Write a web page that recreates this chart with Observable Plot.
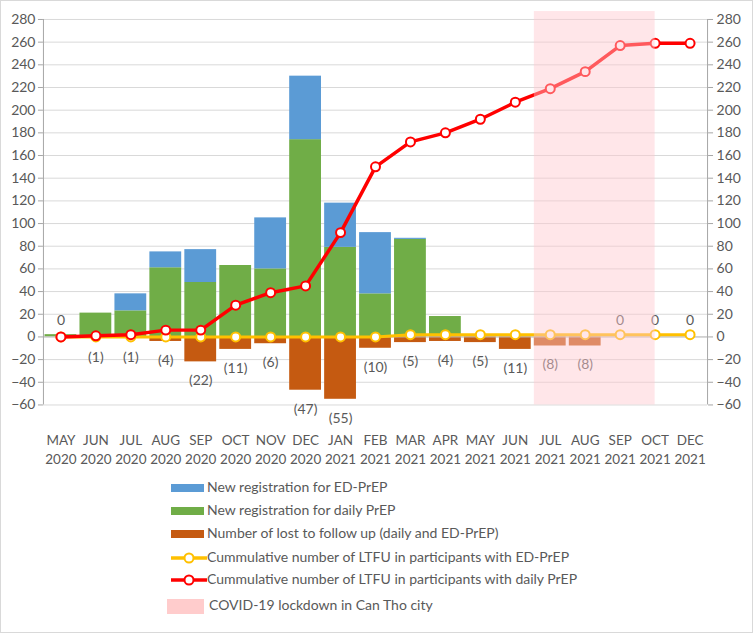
<!DOCTYPE html>
<html>
<head>
<meta charset="utf-8">
<script src="https://cdn.jsdelivr.net/npm/d3@7"></script>
<script src="https://cdn.jsdelivr.net/npm/@observablehq/plot@0.6"></script>
<style>
  html, body { margin: 0; padding: 0; background: #fff; }
  #wrap { position: relative; width: 753px; height: 633px; box-sizing: border-box; border: 1px solid #d9d9d9; overflow: hidden; font-family: Lato, "Open Sans", sans-serif; }
  #chart { position: absolute; left: -1px; top: -1px; }
  .leg { position: absolute; font-size: 14px; color: #595959; line-height: 18px; white-space: nowrap; }
  .sw { position: absolute; }
</style>
</head>
<body>
<div id="wrap"><div id="chart"></div><div id="legend"></div></div>
<script>
const months = ["MAY 2020","JUN 2020","JUL 2020","AUG 2020","SEP 2020","OCT 2020","NOV 2020","DEC 2020","JAN 2021","FEB 2021","MAR 2021","APR 2021","MAY 2021","JUN 2021","JUL 2021","AUG 2021","SEP 2021","OCT 2021","DEC 2021"];
const dailyNew = [2,21,23,61,48,63,60,174,79,38,86,18,0,0,0,0,0,0,0];
const edNew    = [0,0,15,14,29,0,45,56,39,54,1,0,0,0,0,0,0,0,0];
const ltfu     = [0,1,1,4,22,11,6,47,55,10,5,4,5,11,8,8,0,0,0];
const cumEd    = [0,0,0,0,0,0,0,0,0,0,2,2,2,2,2,2,2,2,2];
const cumDaily = [0,1,2,6,6,28,39,45,92,150,172,180,192,207,219,234,257,259,259];
const yTicks   = [-60,-40,-20,0,20,40,60,80,100,120,140,160,180,200,220,240,260,280];
const lockdownStart = "JUL 2021";
const lockdownEnd = "OCT 2021";
const lockdownTop = 287;

const seriesNames = [
  "New registration for ED-PrEP",
  "New registration for daily PrEP",
  "Number of lost to follow up (daily and ED-PrEP)",
  "Cummulative number of LTFU in participants with ED-PrEP",
  "Cummulative number of LTFU in participants with daily PrEP",
  "COVID-19 lockdown in Can Tho city"
];
const colors = { ed: "#5B9BD5", daily: "#70AD47", ltfu: "#C55A11", cumEd: "#FFC000", cumDaily: "#FF0000", lock: "#FFC7CE" };

const idx = months.map((m, i) => i);
const hw = 0.455;
const gray = "#595959";
const axisGray = "#a6a6a6";
const font = "Lato, 'Open Sans', sans-serif";
const fs = 14;

const ls = months.indexOf(lockdownStart), le = months.indexOf(lockdownEnd);

const chart = Plot.plot({
  width: 753,
  height: 475,
  marginLeft: 43,
  marginRight: 45,
  marginTop: 19,
  marginBottom: 70,
  style: { fontFamily: font, fontSize: fs + "px", color: gray, background: "transparent" },
  x: { type: "linear", domain: [-0.5, months.length - 0.5], axis: null },
  y: { domain: [-60, 280], axis: null },
  marks: [
    Plot.gridY(yTicks, { stroke: "#d9d9d9", strokeOpacity: 1 }),
    Plot.rectY(idx, { x1: i => i - hw, x2: i => i + hw, y1: 0, y2: i => dailyNew[i], fill: colors.daily }),
    Plot.rectY(idx.filter(i => edNew[i] > 0), { x1: i => i - hw, x2: i => i + hw, y1: i => dailyNew[i], y2: i => dailyNew[i] + edNew[i], fill: colors.ed }),
    Plot.rectY(idx.filter(i => ltfu[i] > 0), { x1: i => i - hw, x2: i => i + hw, y1: 0, y2: i => -ltfu[i], fill: colors.ltfu }),
    Plot.ruleY([0], { stroke: "#bfbfbf" }),
    Plot.text(idx.filter(i => ltfu[i] > 0), { x: i => i, y: i => -ltfu[i], text: i => `(${ltfu[i]})`, dy: 19, fill: gray, fontSize: fs }),
    Plot.text(idx.filter(i => ltfu[i] === 0), { x: i => i, y: 0, text: i => "0", dy: -16, fill: gray, fontSize: fs }),
    Plot.line(idx, { x: i => i, y: i => cumEd[i], stroke: colors.cumEd, strokeWidth: 3 }),
    Plot.dot(idx, { x: i => i, y: i => cumEd[i], r: 4.5, fill: "white", stroke: colors.cumEd, strokeWidth: 2 }),
    Plot.line(idx, { x: i => i, y: i => cumDaily[i], stroke: colors.cumDaily, strokeWidth: 3.5 }),
    Plot.dot(idx, { x: i => i, y: i => cumDaily[i], r: 4.5, fill: "white", stroke: colors.cumDaily, strokeWidth: 2 }),
    Plot.rect([0], { x1: ls - hw, x2: le, y1: -60, y2: lockdownTop, fill: colors.lock, fillOpacity: 0.45 }),
    Plot.ruleX([-0.5, months.length - 0.5], { y1: -60, y2: 280, stroke: axisGray }),
    Plot.axisY(yTicks, { anchor: "left", tickSize: 5, tickPadding: 3, stroke: axisGray, fill: gray, fontSize: fs }),
    Plot.axisY(yTicks, { anchor: "right", tickSize: 5, tickPadding: 4, stroke: axisGray, fill: gray, fontSize: fs }),
    Plot.axisX(idx, { anchor: "bottom", tickSize: 0, tickPadding: 27, lineHeight: 1.38, tickFormat: i => months[i].replace(" ", "\n"), fill: gray, fontSize: 13.5 })
  ]
});
document.getElementById("chart").appendChild(chart);

// legend
const leg = document.getElementById("legend");
const rows = [
  { y: 487, kind: "bar", color: colors.ed },
  { y: 510, kind: "bar", color: colors.daily },
  { y: 533, kind: "bar", color: colors.ltfu },
  { y: 557, kind: "line", color: colors.cumEd },
  { y: 579, kind: "line", color: colors.cumDaily },
  { y: 605, kind: "area", color: "#FFCCCC" }
];
rows.forEach((r, k) => {
  let html = "";
  if (r.kind === "bar") {
    html += `<div class="sw" style="left:170px;top:${r.y - 4}px;width:33px;height:8px;background:${r.color}"></div>`;
  } else if (r.kind === "line") {
    html += `<svg class="sw" style="left:169px;top:${r.y - 7}px" width="38" height="14"><line x1="1" x2="37" y1="7" y2="7" stroke="${r.color}" stroke-width="3.5"/><circle cx="19" cy="7" r="4.5" fill="white" stroke="${r.color}" stroke-width="2"/></svg>`;
  } else {
    html += `<div class="sw" style="left:166px;top:${r.y - 7}px;width:37px;height:15px;background:${r.color}"></div>`;
  }
  html += `<div class="leg" style="left:${r.kind === "area" ? 208 : 206}px;top:${r.y - 10}px">${seriesNames[k]}</div>`;
  leg.insertAdjacentHTML("beforeend", html);
});
</script>
</body>
</html>
